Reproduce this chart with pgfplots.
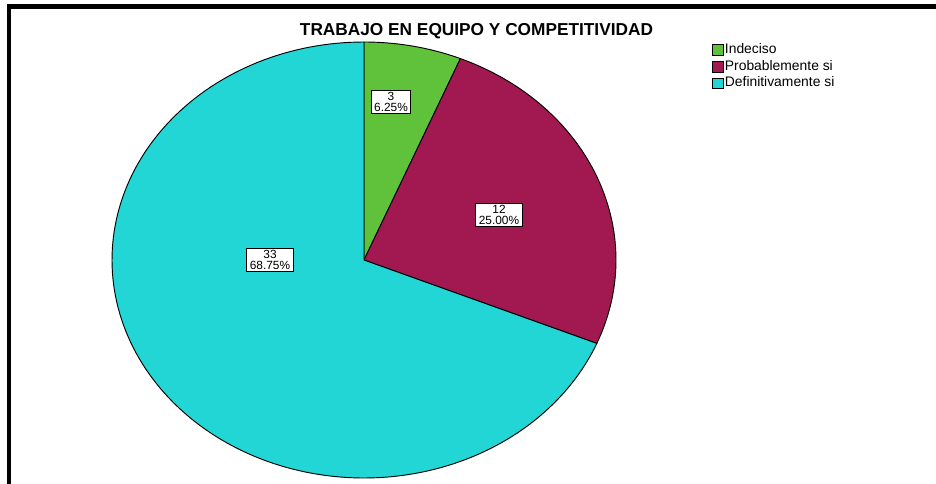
\documentclass[border=0pt]{standalone}
\usepackage{pgfplots}
\usepackage{pgfplotstable}
\usepackage{fontspec}
\setmainfont{Liberation Sans}
\pgfplotsset{compat=1.18}
\definecolor{pgreen}{RGB}{96,194,58}
\definecolor{pmaroon}{RGB}{161,25,80}
\definecolor{pcyan}{RGB}{34,214,214}

\pgfplotstableread{
label value
Indeciso 3
Probable 12
Definitivo 33
}\piedata

\pgfplotstablegetelem{0}{value}\of\piedata \let\va\pgfplotsretval
\pgfplotstablegetelem{1}{value}\of\piedata \let\vb\pgfplotsretval
\pgfplotstablegetelem{2}{value}\of\piedata \let\vc\pgfplotsretval
\pgfmathsetmacro{\vtot}{\va+\vb+\vc}
\pgfmathsetmacro{\angA}{360*\va/\vtot}
\pgfmathsetmacro{\angB}{360*(\va+\vb)/\vtot}

\pgfplotsset{
  swatch/.style={legend image code/.code={
    \draw[##1,draw=black,line width=0.5pt] (0pt,-4pt) rectangle (8pt,4pt);}},
}

\begin{document}
\begin{tikzpicture}
\begin{axis}[
  name=ax,
  hide axis,
  scale only axis,
  width=702pt, height=362.25pt,
  xmin=0, xmax=936, ymin=0, ymax=483,
  clip=false,
  legend style={at={(axis cs:712,441.5)}, anchor=north west, draw=none, fill=none,
    inner sep=0pt, row sep=0pt,
    nodes={inner xsep=1pt, inner ysep=1.3pt, text height=7.5pt, text depth=2.4pt,
      font=\fontsize{10.4}{12}\selectfont}},
  legend cell align=left,
]
\addplot[swatch, fill=pgreen, draw=black, line width=0.7pt, domain=0:\angA, samples=40, variable=\t]
  ({364+252*sin(\t)},{223+218*cos(\t)}) -- (axis cs:364,223) -- cycle;
\addlegendentry{Indeciso}
\addplot[swatch, fill=pmaroon, draw=black, line width=0.7pt, domain=\angA:\angB, samples=80, variable=\t]
  ({364+252*sin(\t)},{223+218*cos(\t)}) -- (axis cs:364,223) -- cycle;
\addlegendentry{Probablemente si}
\addplot[swatch, fill=pcyan, draw=black, line width=0.7pt, domain=\angB:360, samples=160, variable=\t]
  ({364+252*sin(\t)},{223+218*cos(\t)}) -- (axis cs:364,223) -- cycle;
\addlegendentry{Definitivamente si}

\tikzset{lab/.style={draw=black, line width=0.7pt, fill=white, align=center,
  font=\fontsize{8.9}{7.9}\selectfont, inner xsep=2.2pt, inner ysep=1.5pt}}
\node[lab] at (axis cs:391,381) {3\\6.25\%};
\node[lab] at (axis cs:499,268) {12\\25.00\%};
\node[lab] at (axis cs:270,223) {33\\68.75\%};

\node[anchor=base, font=\bfseries\fontsize{12.95}{15}\selectfont] at (axis cs:476.5,447)
  {TRABAJO EN EQUIPO Y COMPETITIVIDAD};

\draw[line width=3.3pt, line join=miter] (axis cs:8.8,-10) -- (axis cs:8.8,476.5) -- (axis cs:950,476.5);
\end{axis}
\pgfresetboundingbox
\path[use as bounding box] (ax.south west) rectangle (ax.north east);
\end{tikzpicture}
\end{document}
